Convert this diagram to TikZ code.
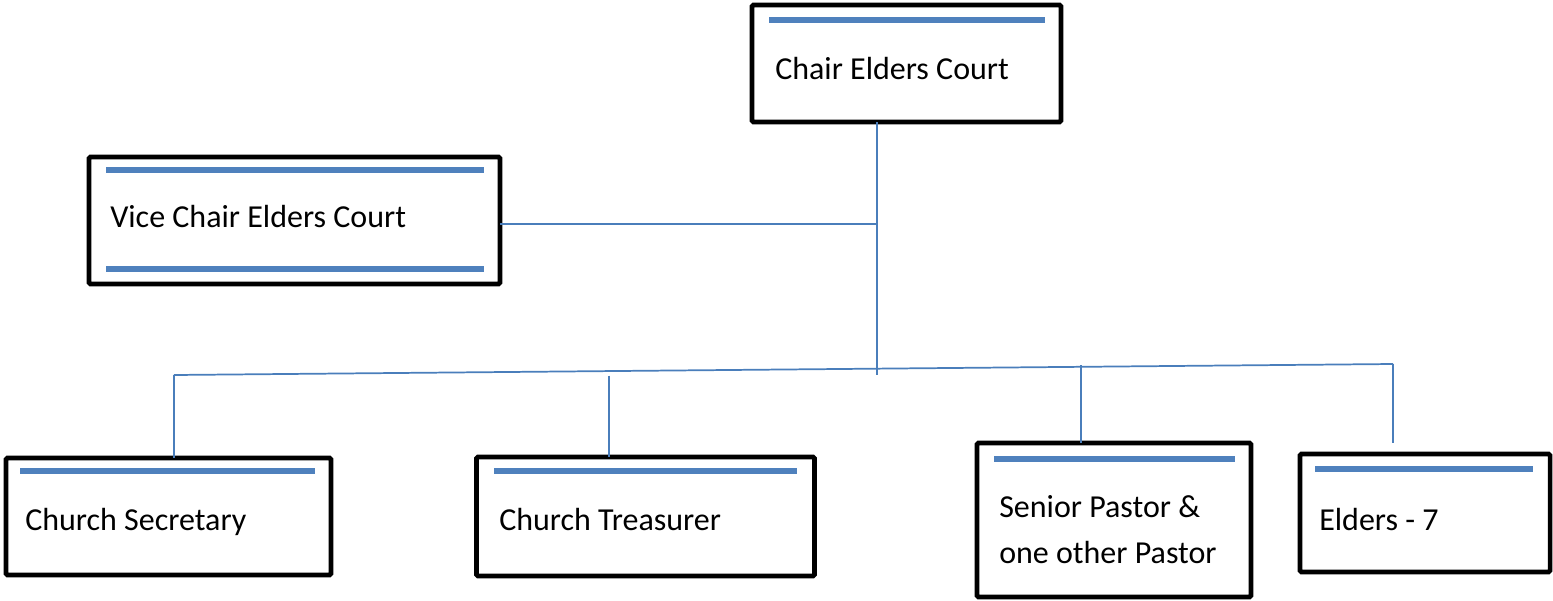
\documentclass[tikz,border=0pt]{standalone}
\usepackage{fontspec}
\setmainfont{Carlito}
\definecolor{barblue}{HTML}{4F81BD}
\definecolor{linkblue}{HTML}{4A7EBB}
\begin{document}
\begin{tikzpicture}[x=0.75pt,y=-0.75pt,
  box/.style={draw=black,line width=3.4pt,rounded corners=1pt,inner sep=0pt,outer sep=0pt},
  bar/.style={draw=barblue,line width=4.5pt},
  link/.style={draw=linkblue,line width=1.3pt},
  lbl/.style={anchor=base west,inner sep=0pt,font=\fontsize{24}{34.5}\selectfont,align=left}]
\useasboundingbox (0,0) rectangle (1553,600);
% boxes
\node[box,minimum width=231.75pt,minimum height=87.75pt] (chair) at (906.5,63.5) {};
\node[box,minimum width=308.25pt,minimum height=95.25pt] (vice) at (294.5,220.5) {};
\node[box,minimum width=243.75pt,minimum height=87.75pt] (sec) at (168.5,516.5) {};
\node[box,minimum width=253.5pt,minimum height=89.25pt] (treas) at (645.5,516.5) {};
\node[box,minimum width=205.5pt,minimum height=115.5pt] (past) at (1114,520) {};
\node[box,minimum width=187.5pt,minimum height=88.5pt] (eld) at (1425,513) {};
% bars
\draw[bar] (769,19.5) -- (1045,19.5);
\draw[bar] (106,170) -- (484,170);
\draw[bar] (106,269) -- (484,269);
\draw[bar] (20,471) -- (315,471);
\draw[bar] (494,471) -- (797,471);
\draw[bar] (994,459) -- (1235,459);
\draw[bar] (1315,469) -- (1533,469);
% labels
\node[lbl] (tchair) at (775,79) {Chair Elders Court};
\node[lbl] (tvice) at (110,227) {Vice Chair Elders Court};
\node[lbl] (tsec) at (25,530) {Church Secretary};
\node[lbl] (ttreas) at (499,530) {Church Treasurer};
\node[lbl] (tpast) at (999,563) {Senior Pastor \&\\one other Pastor};
\node[lbl] (teld) at (1319,530) {Elders - 7};
% connectors
\coordinate (trunk) at (877,375);
\coordinate (vj) at (877,224);
\coordinate (busL) at (174,375);
\coordinate (busR) at (1393,364);
\coordinate (tq) at (609,375.5);
\coordinate (pq) at (1081,365);
\coordinate (eq) at (1393,443);
\draw[link] (chair.south -| trunk) -- (trunk);
\draw[link] (vice.east |- vj) -- (vj);
\draw[link] (busL) -- (busR);
\draw[link] (busL) -- (sec.north -| busL);
\draw[link] (tq) -- (treas.north -| tq);
\draw[link] (pq) -- (past.north -| pq);
\draw[link] (busR) -- (eq);
\end{tikzpicture}
\end{document}
